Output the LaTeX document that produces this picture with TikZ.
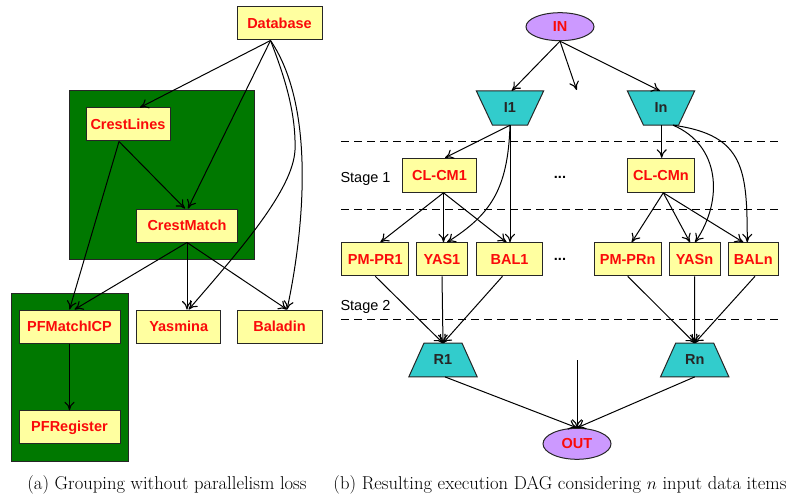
\documentclass[tikz,border=0pt]{standalone}
\usepackage{fontspec}
\newfontfamily\hv{Liberation Sans}
\usetikzlibrary{arrows.meta,shapes.geometric,backgrounds,calc}
\definecolor{boxyellow}{RGB}{255,255,160}
\definecolor{nodered}{RGB}{250,10,10}
\definecolor{grpgreen}{RGB}{0,120,0}
\definecolor{trapteal}{RGB}{50,204,204}
\definecolor{ellpurple}{RGB}{204,153,255}
\tikzset{
  lbl/.style={font=\hv\bfseries\fontsize{14.5}{17}\selectfont},
  box/.style={lbl, draw=black!85, fill=boxyellow, line width=1pt, minimum height=33pt, inner sep=0pt, text=nodered},
  grp/.style={draw=black!85, fill=grpgreen, line width=1pt, minimum height=168pt, inner sep=0pt},
  ell/.style={lbl, ellipse, draw=black!85, fill=ellpurple, line width=1pt, inner sep=0pt, text=nodered},
  trap/.style={lbl, minimum width=67pt, minimum height=34pt, inner sep=0pt, text=black!85},
  trapfill/.style={draw=black!85, fill=trapteal, line width=1pt, line join=miter},
  arr/.style={line width=1pt, -{Computer Modern Rightarrow[length=8.5pt,width=10pt,line width=1.1pt]}},
  stagesep/.style={line width=1pt, dash pattern=on 8pt off 5pt},
  stagelbl/.style={font=\hv\fontsize{14.5}{17}\selectfont},
  dots/.style={font=\hv\bfseries\fontsize{14.5}{17}\selectfont},
  capt/.style={font=\fontsize{18.6}{22}\selectfont}
}
\begin{document}
\begin{tikzpicture}[x=1pt,y=-1pt]
\useasboundingbox (0,0) rectangle (787,500);
% ---------- (a) ----------
\node[grp, minimum width=185pt] (g1) at (161.5,175) {};
\node[grp, minimum width=117pt] (g2) at (69.5,377) {};
\node[box, minimum width=85pt] (db) at (279.5,23.5) {Database};
\node[box, minimum width=84pt] (cl) at (128,124.5) {CrestLines};
\node[box, minimum width=101pt] (cm) at (187,225.5) {CrestMatch};
\node[box, minimum width=101pt] (pfm) at (69.5,326.5) {PFMatchICP};
\node[box, minimum width=101pt] (pfr) at (69.5,427.3) {PFRegister};
\node[box, minimum width=84.5pt] (yas) at (178.7,326.5) {Yasmina};
\node[box, minimum width=85pt] (bal) at (279.5,326.5) {Baladin};

\draw[arr] ([xshift=-9pt]db.south) -- ([xshift=12pt]cl.north);
\draw[arr] ([xshift=-9pt]db.south) -- ([xshift=1pt]cm.north);
\draw[arr] ([xshift=-9pt]db.south) .. controls (286,80) and (296,115) .. (295,150)
   .. controls (293,190) and (240,250) .. ([xshift=10pt]yas.north);
\draw[arr] ([xshift=-9pt]db.south) .. controls (318,110) and (302,240) .. ([xshift=7.5pt]bal.north);
\draw[arr] ([xshift=-9pt]cl.south) -- ([xshift=-2pt]cm.north);
\draw[arr] ([xshift=-9pt]cl.south) -- (pfm.north);
\draw[arr] (cm.south) -- ([xshift=5pt]pfm.north);
\draw[arr] (cm.south) -- ([xshift=8.3pt]yas.north);
\draw[arr] (cm.south) -- ([xshift=7.5pt]bal.north);
\draw[arr] (pfm.south) -- (pfr.north);

\node[capt] (capa) at (167,485) {(a) Grouping without parallelism loss};

% ---------- (b) ----------
\draw[stagesep] (341,141.7) -- (780,141.7);
\draw[stagesep] (341,209) -- (780,209);
\draw[stagesep] (341,319) -- (780,319);
\node[stagelbl] (st1) at (365.5,179) {Stage 1};
\node[stagelbl] (st2) at (365.5,306.7) {Stage 2};
\node[dots] (d1) at (560,177) {...};
\node[dots] (d2) at (560,259.7) {...};

\node[ell, minimum width=68pt, minimum height=28pt] (in) at (560,26.7) {IN};
\node[ell, minimum width=68pt, minimum height=31pt] (out) at (577,443.8) {OUT};

\node[trap] (i1) at (510,108) {I1};
\node[trap] (inn) at (661,108) {In};
\node[trap, minimum width=68pt, minimum height=33.4pt] (r1) at (443,360) {R1};
\node[trap, minimum width=68pt, minimum height=33.4pt] (rn) at (694.7,360) {Rn};
\begin{pgfonlayer}{background}
\draw[trapfill] (i1.north west) -- (i1.north east) -- ([xshift=-16.2pt]i1.south east) -- ([xshift=16.2pt]i1.south west) -- cycle;
\draw[trapfill] (inn.north west) -- (inn.north east) -- ([xshift=-16.2pt]inn.south east) -- ([xshift=16.2pt]inn.south west) -- cycle;
\draw[trapfill] ([xshift=15.2pt]r1.north west) -- ([xshift=-15.2pt]r1.north east) -- (r1.south east) -- (r1.south west) -- cycle;
\draw[trapfill] ([xshift=15.2pt]rn.north west) -- ([xshift=-15.2pt]rn.north east) -- (rn.south east) -- (rn.south west) -- cycle;
\end{pgfonlayer}

\node[box, minimum width=74.4pt, minimum height=34pt] (clcm1) at (439.5,175.3) {CL-CM1};
\node[box, minimum width=66.6pt, minimum height=34pt] (clcmn) at (661,175.3) {CL-CMn};
\node[box, minimum width=67.3pt] (pmpr1) at (375.3,259.3) {PM-PR1};
\node[box, minimum width=50.6pt] (yas1) at (442,259.3) {YAS1};
\node[box, minimum width=65.6pt] (bal1) at (509.5,259.3) {BAL1};
\node[box, minimum width=66.7pt] (pmprn) at (627.7,259.3) {PM-PRn};
\node[box, minimum width=51pt] (yasn) at (694.5,259.3) {YASn};
\node[box, minimum width=50pt] (baln) at (753.3,259.3) {BALn};

\coordinate (freein) at (576.7,90);
\coordinate (freeout) at (577,360);

\draw[arr] (in.south) -- ([xshift=1.7pt]i1.north);
\draw[arr] (in.south) -- (freein);
\draw[arr] (in.south) -- ([xshift=-1pt]inn.north);

\draw[arr] (i1.south) -- ([xshift=5.5pt]clcm1.north);
\draw[arr] (i1.south) -- (i1.south |- bal1.north);
\draw[arr] (i1.south) .. controls (508,190) and (490,215) .. ([xshift=5pt]yas1.north);
\draw[arr] ([xshift=4pt]clcm1.south) -- ([xshift=5pt]pmpr1.north);
\draw[arr] ([xshift=4pt]clcm1.south) -- ([xshift=1.5pt]yas1.north);
\draw[arr] ([xshift=4pt]clcm1.south) -- ([xshift=-3pt]bal1.north);

\draw[arr] ([xshift=0.7pt]inn.south) -- ([xshift=0.7pt]clcmn.north);
\draw[arr] ([xshift=12pt]inn.south) .. controls (720,145) and (724,200) .. ([xshift=0.5pt]yasn.north);
\draw[arr] ([xshift=12pt]inn.south) .. controls (745,135) and (747,170) .. ([xshift=-6pt]baln.north);
\draw[arr] ([xshift=2.3pt]clcmn.south) -- ([xshift=4pt]pmprn.north);
\draw[arr] ([xshift=2.3pt]clcmn.south) -- ([xshift=-4.5pt]yasn.north);
\draw[arr] ([xshift=2.3pt]clcmn.south) -- ([xshift=-10pt]baln.north);

\draw[arr] (pmpr1.south) -- (r1.north);
\draw[arr] (yas1.south) -- (r1.north);
\draw[arr] ([xshift=-7pt]bal1.south) -- (r1.north);
\draw[arr] (pmprn.south) -- (rn.north);
\draw[arr] (yasn.south) -- (rn.north);
\draw[arr] ([xshift=1.7pt]baln.south) -- (rn.north);

\draw[arr] ([xshift=2pt]r1.south) -- (out.north);
\draw[arr] (freeout) -- (out.north);
\draw[arr] (rn.south) -- (out.north);

\node[capt] (captb) at (560,485) {(b) Resulting execution DAG considering $n$ input data items};
\end{tikzpicture}
\end{document}
